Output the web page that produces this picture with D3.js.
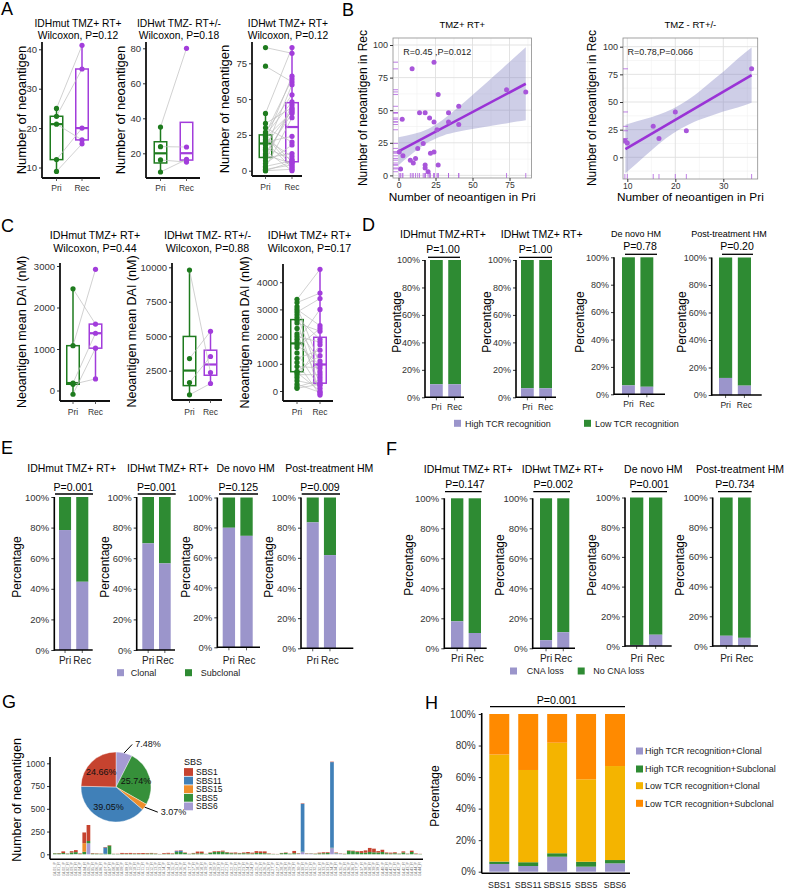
<!DOCTYPE html>
<html>
<head>
<meta charset="utf-8">
<script src="https://cdn.jsdelivr.net/npm/d3@7"></script>
<style>
  body { margin: 0; background: #fff; }
  svg { display: block; }
</style>
</head>
<body>
<svg id="fig" width="787" height="891"></svg>
<script>
// ---------- data ----------
var timepoints = ['Pri', 'Rec'];

// A: number of neoantigen, paired per patient
var groupsAC = ['IDHmut TMZ+ RT+', 'IDHwt TMZ- RT+/-', 'IDHwt TMZ+ RT+'];
var pvalA = ['0.12', '0.18', '0.12'];
var aPri1 = [25, 23, 21, 12, 9];
var aRec1 = [41, 35, 17, 20, 16];
var aPri2 = [35, 23.8, 16.2, 9.3];
var aRec2 = [80, 23.6, 15, 16.5];
var aPri3 = [86, 73, 40, 33, 30, 27, 26, 25, 25, 24, 23, 22, 21, 20, 20, 18, 16, 15, 14, 12, 11, 10, 9, 7, 5, 3, 2, 1, 0, 0];
var aRec3 = [82, 62, 86, 44, 20, 53, 64, 6, 48, 3, 41, 10, 66, 24, 2, 42, 8, 60, 0, 40, 5, 43, 12, 46, 18, 7, 37, 4, 1, 6];
var aTicks = [[10, 20, 30, 40], [20, 40, 60, 80], [0, 25, 50, 75]];

// B: Pri vs Rec neoantigen counts
var b1Pri = [2.5, 9.2, 14.2, 18, 21, 24, 24, 26.8, 26, 33.8, 33.8, 40.7, 40.7, 73, 86, 13, 16.7, 1.4, 8, 10, 21.6, 24, 18, 18, 20, 26.8, 0.5, 3, 11.5];
var b1Rec = [43, 81.7, 48, 48, 44, 41, 86.8, 62, 35, 48, 41, 53, 39, 65.7, 64, 20.7, 24.5, 5, 11.7, 9.5, 17, 18, 8, 5.7, 2.8, 8, 18, 15, 13];
var b1FitX = [0, 86];
var b1FitY = [18.5, 70.3];
var b1BandX = [0, 10, 20, 30, 40, 50, 60, 70, 80, 86];
var b1BandHi = [29.2, 31.7, 35.6, 42.7, 51.8, 61.6, 71.7, 81.8, 92.1, 98.3];
var b1BandLo = [7.8, 17.3, 25.4, 30.5, 33.4, 35.6, 37.5, 39.4, 41.3, 42.3];
var b2Pri = [9.5, 10, 15.4, 16.6, 20, 22.3, 35.9];
var b2Rec = [15, 13, 28, 17, 41, 24, 80];
var b2FitX = [9.6, 35.9];
var b2FitY = [7.5, 74.3];
var b2BandX = [9.6, 12, 15, 18, 21, 24, 27, 30, 33, 35.9];
var b2BandHi = [29.5, 32.6, 36.2, 40.9, 47.5, 56.1, 66.8, 77.3, 89, 99.3];
var b2BandLo = [-14.5, -5.4, 6.2, 16.9, 25.5, 32.1, 36.8, 41.3, 45, 49.3];

// C: neoantigen mean DAI (nM)
var pvalC = ['0.44', '0.88', '0.17'];
var cPri1 = [2450, 1080, 180, 150, -90];
var cRec1 = [1600, 2920, 1380, 280, 1020];
var cPri2 = [9800, 3380, 1640, 750];
var cRec2 = [2370, 5360, 3530, 1570];
var cPri3 = [3370, 3250, 3100, 3000, 2900, 2800, 2700, 2600, 2500, 2300, 2100, 2000, 1900, 1800, 1700, 1600, 1400, 1200, 1050, 900, 720, 680, 600, 500, 380, 250, 150, 100];
var cRec3 = [4474, 3600, 1000, 2400, 3400, 500, 1900, -100, 2200, 1100, 300, 1800, 700, 3000, 950, 2300, 100, 1500, -150, 850, 1300, 0, 600, 1700, 200, -50, 400, 250];
var cTicks = [[0, 1000, 2000, 3000], [2500, 5000, 7500, 10000], [0, 1000, 2000, 3000, 4000]];

// D / E / F: percentages (lower segment), Pri & Rec
var titlesD = ['IDHmut TMZ+RT+', 'IDHwt TMZ+ RT+', 'De novo HM', 'Post-treatment HM'];
var titlesEF = ['IDHmut TMZ+ RT+', 'IDHwt TMZ+ RT+', 'De novo HM', 'Post-treatment HM'];
var highTCR = [[9.5, 9.5], [6.6, 6.6], [6.5, 5.5], [12.4, 6.8]];
var pvalD = ['1.00', '1.00', '0.78', '0.20'];
var clonal = [[78.4, 44.6], [69.7, 56.6], [79.8, 74.4], [83.5, 61.8]];
var pvalE = ['0.001', '0.001', '0.125', '0.009'];
var cnaLoss = [[18, 10.2], [5.4, 10.7], [0.7, 7.6], [6.9, 5.5]];
var pvalF = ['0.147', '0.002', '0.001', '0.734'];
var pctTicks = [0, 20, 40, 60, 80, 100];

// G: neoantigens per sample by signature
var signatures = ['SBS1', 'SBS11', 'SBS15', 'SBS5', 'SBS6'];
var sigShare = [24.66, 39.05, 3.07, 25.74, 7.48];
var sampleIds = ['GL01_P','GL01_R','GL02_P','GL02_R','GL03_P','GL03_R','GL04_P','GL04_R','GL05_P','GL05_R',
  'GL06_P','GL06_R','GL07_P','GL07_R','GL08_P','GL08_R','GL09_P','GL09_R','GL10_P','GL10_R',
  'GL11_P','GL11_R','GL12_P','GL12_R','GL13_P','GL13_R','GL14_P','GL14_R','GL15_P','GL15_R',
  'GL16_P','GL16_R','GL17_P','GL17_R','GL18_P','GL18_R','GL19_P','GL19_R','GL20_P','GL20_R',
  'GL21_P','GL21_R','GL22_P','GL22_R','GL23_P','GL23_R','GL24_P','GL24_R','GL25_P','GL25_R',
  'GL26_P','GL26_R','GL27_P','GL27_R','GL28_P','GL28_R','GL29_P','GL29_R','GL30_P','GL30_R',
  'GL31_P','GL31_R','GL32_P','GL32_R','GL33_P','GL33_R','GL34_P','GL34_R','GL35_P','GL35_R',
  'GL36_P','GL36_R','GL37_P','GL37_R','GL38_P','GL38_R','GL39_P','GL39_R','GL40_P','GL40_R',
  'GL41_P','GL41_R','GL42_P','GL42_R','GL43_P','GL43_R','GL44_P','GL44_R'];
var gSBS1 = [2,4,18,3,14,22,6,118,176,5, 4,3,5,5,2,3,10,8,10,6, 8,10,6,5,4,2,8,10,6,5,
  5,5,3,5,20,18,2,5,8,8, 10,5,6,10,5,8,15,10,20,18, 20,5,2,2,3,5,3,25,4,5,
  3,2,3,8,10,8,5,5,3,3, 5,5,8,20,25,45,40,15,25,8, 10,10,3,12,3,15,5,2];
var gSBS11 = [0,0,0,0,0,0,0,0,0,0, 0,0,70,0,0,0,0,0,0,0, 0,0,0,0,0,0,0,0,0,10,
  15,0,0,0,0,0,0,0,0,0, 0,0,0,0,0,0,0,0,0,0, 0,0,0,0,0,0,0,0,0,525,
  0,0,0,0,0,0,940,0,0,0, 0,0,0,0,0,0,0,0,0,0, 0,0,0,0,0,0,0,0];
var gSBS15 = [0,0,0,0,0,0,0,95,0,0, 0,0,0,0,0,0,0,0,0,0, 0,0,0,0,0,0,0,0,0,0,
  0,0,0,0,0,0,0,0,0,0, 0,0,0,0,0,0,0,0,0,0, 0,0,0,0,0,0,0,0,0,0,
  0,0,0,0,0,0,0,0,0,0, 0,0,0,0,0,0,0,0,0,0, 0,0,0,0,0,0,0,0];
var gSBS5 = [10,10,12,6,20,22,4,27,25,8, 6,5,5,95,4,3,5,6,5,6, 5,4,8,10,6,2,5,6,4,25,
  25,15,3,10,10,12,3,15,25,28, 30,20,12,10,10,12,10,8,15,14, 12,5,3,2,12,15,5,12,4,5,
  3,3,5,10,12,15,5,5,2,3, 38,35,25,15,18,25,22,20,25,12, 8,12,5,20,5,25,4,3];
var gSBS6 = [0,0,2,0,0,2,0,0,121,0, 0,0,0,0,0,0,0,0,0,0, 0,0,0,0,0,0,0,0,0,0,
  0,0,0,0,0,0,0,0,0,0, 0,0,0,0,0,0,0,0,0,0, 0,0,0,0,0,0,0,0,3,25,
  5,6,0,0,0,0,68,10,5,0, 0,0,0,0,0,0,0,0,0,0, 0,0,0,0,0,0,0,0];
var gTicks = [0, 250, 500, 750, 1000];

// H: TCR recognition x clonality by signature (%)
var hHighClonal = [4.9, 3.6, 9.5, 3.2, 5.3];
var hHighSub = [1.5, 2.4, 2.2, 3.1, 2.1];
var hLowClonal = [67.9, 58.5, 70.1, 52.3, 59.6];
var hLowSub = [25.7, 35.5, 18.2, 41.4, 33.0];
var hKeys = ['High TCR recognition+Clonal', 'High TCR recognition+Subclonal', 'Low TCR recognition+Clonal', 'Low TCR recognition+Subclonal'];

// ---------- styles ----------
var FONT = '"Liberation Sans", Arial, Helvetica, sans-serif';
var GREEN = '#1e7b1e', PURPLE = '#a23ddb';
var LAV = '#9b95cb', DGREEN = '#2e8b33';
var sigColor = {SBS1: '#c6432f', SBS11: '#4080b8', SBS15: '#ef8e2c', SBS5: '#36903a', SBS6: '#a59bd3'};
var hColors = [LAV, DGREEN, '#f4b400', '#ff8a00'];

var svg = d3.select('#fig').attr('font-family', FONT);
svg.append('rect').attr('width', 787).attr('height', 891).attr('fill', '#fff');

function label(g, x, y, s, size, anchor, fill) {
    return g.append('text')
        .attr('x', x).attr('y', y)
        .attr('font-size', size)
        .attr('text-anchor', anchor || 'middle')
        .attr('fill', fill || '#000')
        .text(s);
}
function vlabel(g, x, y, s, size) {
    return g.append('text')
        .attr('transform', 'translate(' + x + ',' + y + ') rotate(-90)')
        .attr('text-anchor', 'middle')
        .attr('dy', '0.35em')
        .attr('font-size', size)
        .text(s);
}
function hline(g, x1, x2, y, w, c) {
    return g.append('line').attr('x1', x1).attr('x2', x2).attr('y1', y).attr('y2', y)
        .attr('stroke', c || '#000').attr('stroke-width', w || 1);
}
function vline(g, x, y1, y2, w, c) {
    return g.append('line').attr('x1', x).attr('x2', x).attr('y1', y1).attr('y2', y2)
        .attr('stroke', c || '#000').attr('stroke-width', w || 1);
}
function styleAxis(a, size) {
    a.attr('font-family', FONT).attr('font-size', size);
    a.select('.domain').remove();
    a.selectAll('.tick line').attr('stroke', '#333');
    a.selectAll('.tick text').attr('fill', '#333');
}
function boxStats(v) {
    var s = v.slice().sort(d3.ascending);
    var q1 = d3.quantileSorted(s, 0.25), md = d3.quantileSorted(s, 0.5), q3 = d3.quantileSorted(s, 0.75);
    var iqr = q3 - q1;
    return {
        q1: q1, md: md, q3: q3,
        lo: d3.min(s.filter(function(d) { return d >= q1 - 1.5 * iqr; })),
        hi: d3.max(s.filter(function(d) { return d <= q3 + 1.5 * iqr; }))
    };
}

// ---------- panel letters ----------
[['A', 1, 15], ['B', 342, 16], ['C', 1, 232], ['D', 362, 231], ['E', 1, 454], ['F', 386, 455], ['G', 2, 708], ['H', 425, 709]]
    .forEach(function(l) { label(svg, l[1], l[2], l[0], 18, 'start'); });

//-----  A & C: paired box plots  -----//
function boxPanel(L, title, pval, pri, rec, ticks, fmt, ylab, ylabSize) {
    var g = svg.append('g');
    var y = d3.scaleLinear().domain([ticks[0], ticks[ticks.length - 1]]).range(L.tickPx);
    var x = d3.scalePoint().domain(timepoints).range(L.xs);
    label(g, L.titleX, L.titleY[0], title, L.titleSize);
    label(g, L.titleX, L.titleY[1], 'Wilcoxon, P=' + pval, L.titleSize);

    var ya = g.append('g').attr('transform', 'translate(' + L.ax + ',0)')
        .call(d3.axisLeft(y).tickValues(ticks).tickSize(3).tickPadding(2).tickFormat(fmt));
    styleAxis(ya, 9.5);
    vline(g, L.ax, L.top, L.bot, 1.8, '#111');
    hline(g, L.ax, L.xEnd, L.bot, 1.8, '#111');
    timepoints.forEach(function(t) {
        vline(g, x(t), L.bot, L.bot + 3, 0.8, '#333');
        label(g, x(t), L.xlabY, t, 8.5, 'middle', '#333');
    });
    vlabel(g, L.ylabX, (L.top + L.bot) / 2, ylab, ylabSize);

    var bw = 12.5;
    [[pri, 'Pri', GREEN], [rec, 'Rec', PURPLE]].forEach(function(s) {
        var st = boxStats(s[0]), cx = x(s[1]);
        vline(g, cx, y(st.q3), y(st.hi), 1.5, s[2]);
        vline(g, cx, y(st.q1), y(st.lo), 1.5, s[2]);
        g.append('rect')
            .attr('x', cx - bw / 2).attr('width', bw)
            .attr('y', y(st.q3)).attr('height', y(st.q1) - y(st.q3))
            .attr('fill', '#fff').attr('stroke', s[2]).attr('stroke-width', 1.5);
        hline(g, cx - bw / 2, cx + bw / 2, y(st.md), 2.2, s[2]);
    });
    pri.forEach(function(v, i) {
        g.append('line')
            .attr('x1', x('Pri')).attr('y1', y(v))
            .attr('x2', x('Rec')).attr('y2', y(rec[i]))
            .attr('stroke', '#bdbdbd').attr('stroke-width', 0.7);
    });
    [[pri, 'Pri', GREEN], [rec, 'Rec', PURPLE]].forEach(function(s) {
        g.selectAll(null).data(s[0]).enter().append('circle')
            .attr('cx', x(s[1])).attr('cy', function(d) { return y(d); })
            .attr('r', 2.6).attr('fill', s[2]);
    });
}

var aLayout = [
    {ax: 42, xEnd: 100, top: 42, bot: 178, xs: [56.5, 82], tickPx: [167.5, 49.3], titleX: 78, xlabY: 191, ylabX: 21},
    {ax: 146, xEnd: 200, top: 42, bot: 178, xs: [160.5, 186.5], tickPx: [153.3, 48.3], titleX: 179, xlabY: 191, ylabX: 120},
    {ax: 252, xEnd: 302, top: 42, bot: 176, xs: [265.5, 292], tickPx: [170.7, 63.3], titleX: 288, xlabY: 190, ylabX: 224}
];
var aPri = [aPri1, aPri2, aPri3], aRec = [aRec1, aRec2, aRec3];
aLayout.forEach(function(L, i) {
    L.titleY = [26.5, 38.5]; L.titleSize = 10.3;
    boxPanel(L, groupsAC[i], pvalA[i], aPri[i], aRec[i], aTicks[i], d3.format('d'), 'Number of neoantigen', 13);
});

var cLayout = [
    {ax: 60, xEnd: 110, top: 263, bot: 401, xs: [73, 95.5], tickPx: [390.5, 266], titleX: 95, xlabY: 415, ylabX: 22},
    {ax: 172, xEnd: 222, top: 263, bot: 400, xs: [189.5, 210.5], tickPx: [370.7, 267.3], titleX: 207.5, xlabY: 415, ylabX: 132},
    {ax: 283, xEnd: 333, top: 264, bot: 401, xs: [297, 320], tickPx: [391, 282.2], titleX: 309.5, xlabY: 415, ylabX: 245}
];
var cPri = [cPri1, cPri2, cPri3], cRec = [cRec1, cRec2, cRec3];
cLayout.forEach(function(L, i) {
    L.titleY = [239, 252]; L.titleSize = 10.7;
    boxPanel(L, groupsAC[i], pvalC[i], cPri[i], cRec[i], cTicks[i], d3.format('d'), 'Neoantigen mean DAI (nM)', 12.5);
});

//-----  B: scatter with fit  -----//
function scatterPanel(L, px, py, fitX, fitY, bandX, bandLo, bandHi) {
    var g = svg.append('g');
    var x = d3.scaleLinear().domain(L.xAnch).range(L.xAnchPx);
    var y = d3.scaleLinear().domain(L.yAnch).range(L.yAnchPx);
    g.append('clipPath').attr('id', 'clip' + L.id).append('rect')
        .attr('x', L.x0).attr('y', L.y0).attr('width', L.x1 - L.x0).attr('height', L.y1 - L.y0);
    var body = g.append('g').attr('clip-path', 'url(#clip' + L.id + ')');
    L.xMinor.forEach(function(v) { vline(body, x(v), L.y0, L.y1, 0.6, '#f0f0f0'); });
    L.yMinor.forEach(function(v) { hline(body, L.x0, L.x1, y(v), 0.6, '#f0f0f0'); });
    L.xTicks.forEach(function(v) { vline(body, x(v), L.y0, L.y1, 0.9, '#e0e0e0'); });
    L.yTicks.forEach(function(v) { hline(body, L.x0, L.x1, y(v), 0.9, '#e0e0e0'); });

    var band = d3.area()
        .x(function(d, i) { return x(bandX[i]); })
        .y0(function(d, i) { return y(bandLo[i]); })
        .y1(function(d, i) { return y(bandHi[i]); })
        .curve(d3.curveMonotoneX);
    body.append('path').datum(bandX).attr('d', band).attr('fill', '#8585c4').attr('opacity', 0.4);
    body.append('path').datum(fitX)
        .attr('d', d3.line().x(function(d, i) { return x(fitX[i]); }).y(function(d, i) { return y(fitY[i]); }))
        .attr('fill', 'none').attr('stroke', '#9a33d6').attr('stroke-width', 2.6);
    body.selectAll(null).data(px).enter().append('circle')
        .attr('cx', function(d) { return x(d); })
        .attr('cy', function(d, i) { return y(py[i]); })
        .attr('r', 2.5).attr('fill', '#a856da');
    py.forEach(function(v) { hline(body, L.x0, L.x0 + 5, y(v), 0.8, '#b060e0'); });
    px.forEach(function(v) { vline(body, x(v), L.y1, L.y1 - 5, 0.8, '#b060e0'); });
    g.append('rect').attr('x', L.x0).attr('y', L.y0)
        .attr('width', L.x1 - L.x0).attr('height', L.y1 - L.y0)
        .attr('fill', 'none').attr('stroke', '#8c8c8c').attr('stroke-width', 0.8);

    var xa = g.append('g').attr('transform', 'translate(0,' + L.y1 + ')')
        .call(d3.axisBottom(x).tickValues(L.xTicks).tickSize(3).tickPadding(1));
    styleAxis(xa, 8.5);
    var ya = g.append('g').attr('transform', 'translate(' + L.x0 + ',0)')
        .call(d3.axisLeft(y).tickValues(L.yTicks).tickSize(3).tickPadding(2));
    styleAxis(ya, 9);

    label(g, (L.x0 + L.x1) / 2, 28, L.title, 9.5);
    label(g, L.statX, 54.5, L.stat, 9, 'start', '#222');
    label(g, (L.x0 + L.x1) / 2, 201, 'Number of neoantigen in Pri', 11.8);
    vlabel(g, L.ylabX, 108, 'Number of neoantigen in Rec', 12);
}

scatterPanel({
    id: 'b1', x0: 393, x1: 531.5, y0: 38, y1: 178,
    xAnch: [0, 75], xAnchPx: [398.5, 509.5], yAnch: [0, 100], yAnchPx: [175.4, 45],
    xTicks: [0, 25, 50, 75], yTicks: [0, 25, 50, 75, 100],
    xMinor: [12.5, 37.5, 62.5, 87.5], yMinor: [12.5, 37.5, 62.5, 87.5],
    title: 'TMZ+ RT+', stat: 'R=0.45 ,P=0.012', statX: 403.3, ylabX: 363
}, b1Pri, b1Rec, b1FitX, b1FitY, b1BandX, b1BandLo, b1BandHi);

scatterPanel({
    id: 'b2', x0: 623, x1: 757.7, y0: 38, y1: 179,
    xAnch: [10, 30], xAnchPx: [627.3, 723.3], yAnch: [0, 100], yAnchPx: [157.3, 46.7],
    xTicks: [10, 20, 30], yTicks: [0, 25, 50, 75, 100],
    xMinor: [15, 25, 35], yMinor: [-12.5, 12.5, 37.5, 62.5, 87.5],
    title: 'TMZ - RT+/-', stat: 'R=0.78,P=0.066', statX: 627.5, ylabX: 592
}, b2Pri, b2Rec, b2FitX, b2FitY, b2BandX, b2BandLo, b2BandHi);

//-----  D, E, F: stacked Pri/Rec percentage bars  -----//
function stackPanel(L, title, pval, vals, ts) {
    var g = svg.append('g');
    var x = d3.scaleBand().domain(timepoints).range([L.b0, L.b1]).paddingInner(0.3);
    var y = d3.scaleLinear().domain([0, 100]).range([L.y0, L.y100]);
    timepoints.forEach(function(t, i) {
        g.append('rect').attr('x', x(t)).attr('width', x.bandwidth())
            .attr('y', y(100)).attr('height', y(vals[i]) - y(100)).attr('fill', DGREEN);
        g.append('rect').attr('x', x(t)).attr('width', x.bandwidth())
            .attr('y', y(vals[i])).attr('height', y(0) - y(vals[i])).attr('fill', LAV);
        vline(g, x(t) + x.bandwidth() / 2, L.y0, L.y0 + 3, 0.8, '#333');
        label(g, x(t) + x.bandwidth() / 2, L.xlabY, t, L.xlabSize, 'middle', '#222');
    });
    var ya = g.append('g').attr('transform', 'translate(' + L.ax + ',0)')
        .call(d3.axisLeft(y).tickValues(pctTicks).tickSize(3).tickPadding(2)
            .tickFormat(function(d) { return d + '%'; }));
    styleAxis(ya, L.tickSize);
    vline(g, L.ax, L.y100, L.y0 + 0.8, 1.6, '#000');
    hline(g, L.ax, L.axEnd, L.y0, 1.6, '#000');
    label(g, L.tx, L.ty, title, ts);
    label(g, L.px, L.py, 'P=' + pval, 10.5);
    hline(g, L.brX[0], L.brX[1], L.bry, 1.3, '#000');
    vlabel(g, L.ylabX, L.ylabY, 'Percentage', 12);
}

var dLayout = [
    {ax: 425, axEnd: 464, b0: 430, b1: 461, y0: 397.3, y100: 260, tx: 443, ty: 238, px: 443, py: 253, brX: [428, 460], bry: 257.3, ylabX: 397},
    {ax: 516, axEnd: 556, b0: 521, b1: 552, y0: 397.3, y100: 260, tx: 541.7, ty: 238, px: 535.5, py: 253, brX: [519, 552], bry: 257.3, ylabX: 487},
    {ax: 614, axEnd: 665, b0: 622, b1: 653.3, y0: 394.3, y100: 257.3, tx: 636, ty: 237, px: 640, py: 250, brX: [625, 657], bry: 254.3, ylabX: 580},
    {ax: 711.7, axEnd: 761.7, b0: 719, b1: 751, y0: 395, y100: 257.5, tx: 729, ty: 237, px: 737, py: 250, brX: [722, 753], bry: 254.3, ylabX: 682}
];
dLayout.forEach(function(L, i) {
    L.xlabY = L.y0 + 13; L.xlabSize = 8.5; L.tickSize = 9; L.ylabY = 322;
    stackPanel(L, titlesD[i], pvalD[i], highTCR[i], i < 2 ? 10.5 : 9);
});

var eLayout = [
    {ax: 54.3, axEnd: 92.7, b0: 59, b1: 88.3, y0: 650, y100: 497, tx: 71.7, px: 73.3, brX: [55, 93], ylabX: 16.7},
    {ax: 136.7, axEnd: 175, b0: 142.3, b1: 170.7, y0: 650, y100: 497, tx: 168, px: 156.7, brX: [137.7, 175.7], ylabX: 104.3},
    {ax: 217.3, axEnd: 260, b0: 222.7, b1: 252.7, y0: 647.3, y100: 497.5, tx: 245.7, px: 238.3, brX: [219, 258], ylabX: 185.7},
    {ax: 301, axEnd: 353.3, b0: 306.7, b1: 336, y0: 648.3, y100: 497.5, tx: 329.3, px: 320, brX: [301.7, 340], ylabX: 268.3}
];
eLayout.forEach(function(L, i) {
    L.ty = 472; L.py = 491; L.bry = 494; L.xlabY = 664; L.xlabSize = 10; L.tickSize = 9.5; L.ylabY = 567;
    stackPanel(L, titlesEF[i], pvalE[i], clonal[i], 10.5);
});

var fLayout = [
    {ax: 444.3, axEnd: 486.7, b0: 451, b1: 481, y0: 648.3, y100: 498.3, tx: 468.3, px: 465, brX: [445, 481.7], ylabX: 408.3},
    {ax: 532.7, axEnd: 575, b0: 540, b1: 569.3, y0: 648.3, y100: 498.3, tx: 562.7, px: 553.3, brX: [533.3, 570], ylabX: 500},
    {ax: 625, axEnd: 671.7, b0: 630, b1: 662.3, y0: 646, y100: 497.5, tx: 653.3, px: 649.3, brX: [631.7, 667], ylabX: 591.7},
    {ax: 712.7, axEnd: 758, b0: 720, b1: 750.7, y0: 646, y100: 497.5, tx: 740, px: 735, brX: [718, 751.7], ylabX: 680}
];
fLayout.forEach(function(L, i) {
    L.ty = 473; L.py = 487.5; L.bry = 491.7; L.xlabY = 661.5; L.xlabSize = 10; L.tickSize = 9.5; L.ylabY = 565;
    stackPanel(L, titlesEF[i], pvalF[i], cnaLoss[i], 10.5);
});

function legendRow(items, yc) {
    items.forEach(function(it) {
        svg.append('rect').attr('x', it[2]).attr('y', yc - 3.5).attr('width', 7).attr('height', 7).attr('fill', it[1]);
        label(svg, it[3], yc + 3.2, it[0], 9, 'start', '#222');
    });
}
legendRow([['High TCR recognition', LAV, 454, 465], ['Low TCR recognition', DGREEN, 584, 595]], 423.3);
legendRow([['Clonal', LAV, 117, 130.7], ['Subclonal', DGREEN, 185, 200.7]], 672.7);
legendRow([['CNA loss', LAV, 510, 526.7], ['No CNA loss', DGREEN, 577.7, 593.3]], 671);

//-----  G: stacked bars per sample + pie  -----//
(function() {
    var g = svg.append('g');
    var rows = sampleIds.map(function(id, i) {
        return {id: id, SBS1: gSBS1[i], SBS11: gSBS11[i], SBS15: gSBS15[i], SBS5: gSBS5[i], SBS6: gSBS6[i]};
    });
    var series = d3.stack().keys(['SBS6', 'SBS5', 'SBS15', 'SBS11', 'SBS1'])(rows);
    var x = d3.scaleBand().domain(sampleIds).range([53, 422]).paddingInner(0.12);
    var y = d3.scaleLinear().domain([0, 1000]).range([854.3, 763.3]);

    series.forEach(function(s) {
        g.selectAll(null).data(s).enter().append('rect')
            .attr('x', function(d) { return x(d.data.id); })
            .attr('width', x.bandwidth())
            .attr('y', function(d) { return y(d[1]); })
            .attr('height', function(d) { return y(d[0]) - y(d[1]); })
            .attr('fill', sigColor[s.key]);
    });
    var ya = g.append('g').attr('transform', 'translate(50,0)')
        .call(d3.axisLeft(y).tickValues(gTicks).tickSize(3).tickPadding(2).tickFormat(d3.format('d')));
    styleAxis(ya, 8.5);
    vline(g, 50, 757, 859.3, 1.6, '#000');
    hline(g, 50, 423, 859.3, 1.6, '#000');
    g.selectAll(null).data(sampleIds).enter().append('text')
        .attr('transform', function(d) { return 'translate(' + (x(d) + x.bandwidth() / 2 + 1.3) + ',862) rotate(-90)'; })
        .attr('text-anchor', 'end')
        .attr('font-size', 3.8)
        .attr('fill', '#777')
        .text(function(d) { return d; });
    vlabel(g, 16.7, 800, 'Number of neoantigen', 12.5);

    // pie
    var cx = 116, cy = 787, r = 35;
    var pieRows = signatures.map(function(s, i) { return {sig: s, v: sigShare[i]}; }).reverse();
    var arcs = d3.pie().sort(null).value(function(d) { return d.v; })(pieRows);
    var arc = d3.arc().innerRadius(0).outerRadius(r);
    var pg = g.append('g').attr('transform', 'translate(' + cx + ',' + cy + ')');
    pg.selectAll(null).data(arcs).enter().append('path')
        .attr('d', arc)
        .attr('fill', function(d) { return sigColor[d.data.sig]; })
        .attr('stroke', '#fff').attr('stroke-width', 0.4);
    arcs.forEach(function(a) {
        var mid = (a.startAngle + a.endAngle) / 2;
        var sx = Math.sin(mid), sy = -Math.cos(mid);
        var txt = a.data.v.toFixed(2) + '%';
        if (a.data.v > 10) {
            label(pg, sx * r * 0.6, sy * r * 0.6 + 3.2, txt, 9, 'middle', '#111');
        } else {
            var ex = sx * r * 1.25 + 6, ey = sy * r * 1.25;
            pg.append('line').attr('x1', sx * r).attr('y1', sy * r).attr('x2', ex).attr('y2', ey)
                .attr('stroke', '#000').attr('stroke-width', 1);
            label(pg, ex + 3, ey + 3, txt, 9, 'start', '#111');
        }
    });

    // legend
    label(g, 184, 765, 'SBS', 9, 'start', '#111');
    signatures.forEach(function(s, i) {
        var yc = 772 + i * 8.6;
        g.append('rect').attr('x', 184).attr('y', yc - 3.9).attr('width', 9).attr('height', 7.8).attr('fill', sigColor[s]);
        label(g, 196, yc + 3, s, 8.5, 'start', '#111');
    });
})();

//-----  H: stacked percentage by signature  -----//
(function() {
    var g = svg.append('g');
    var rows = signatures.map(function(s, i) {
        return {sig: s, k0: hHighClonal[i], k1: hHighSub[i], k2: hLowClonal[i], k3: hLowSub[i]};
    });
    var series = d3.stack().keys(['k0', 'k1', 'k2', 'k3'])(rows);
    var x = d3.scaleBand().domain(signatures).range([489.3, 625]).paddingInner(0.31);
    var y = d3.scaleLinear().domain([0, 100]).range([871.7, 714]);
    series.forEach(function(s, j) {
        g.selectAll(null).data(s).enter().append('rect')
            .attr('x', function(d) { return x(d.data.sig); })
            .attr('width', x.bandwidth())
            .attr('y', function(d) { return y(d[1]); })
            .attr('height', function(d) { return y(d[0]) - y(d[1]); })
            .attr('fill', hColors[j]);
    });
    var ya = g.append('g').attr('transform', 'translate(481.7,0)')
        .call(d3.axisLeft(y).tickValues(pctTicks).tickSize(3).tickPadding(3)
            .tickFormat(function(d) { return d + '%'; }));
    styleAxis(ya, 10);
    vline(g, 481.7, 713, 873.3, 1.6, '#000');
    hline(g, 481.7, 630, 873.3, 1.6, '#000');
    signatures.forEach(function(s) {
        label(g, x(s) + x.bandwidth() / 2, 888, s, 8.8, 'middle', '#222');
    });
    label(g, 556.7, 704, 'P=0.001', 10.7);
    hline(g, 490, 625, 706.7, 1.2, '#000');
    vlabel(g, 435, 796, 'Percentage', 12);
    hKeys.forEach(function(k, i) {
        var yc = [751, 769, 785.7, 803.3][i];
        g.append('rect').attr('x', 636).attr('y', yc - 3.5).attr('width', 7).attr('height', 7).attr('fill', hColors[i]);
        label(g, 645, yc + 3.2, k, 9, 'start', '#222');
    });
})();
</script>
</body>
</html>
